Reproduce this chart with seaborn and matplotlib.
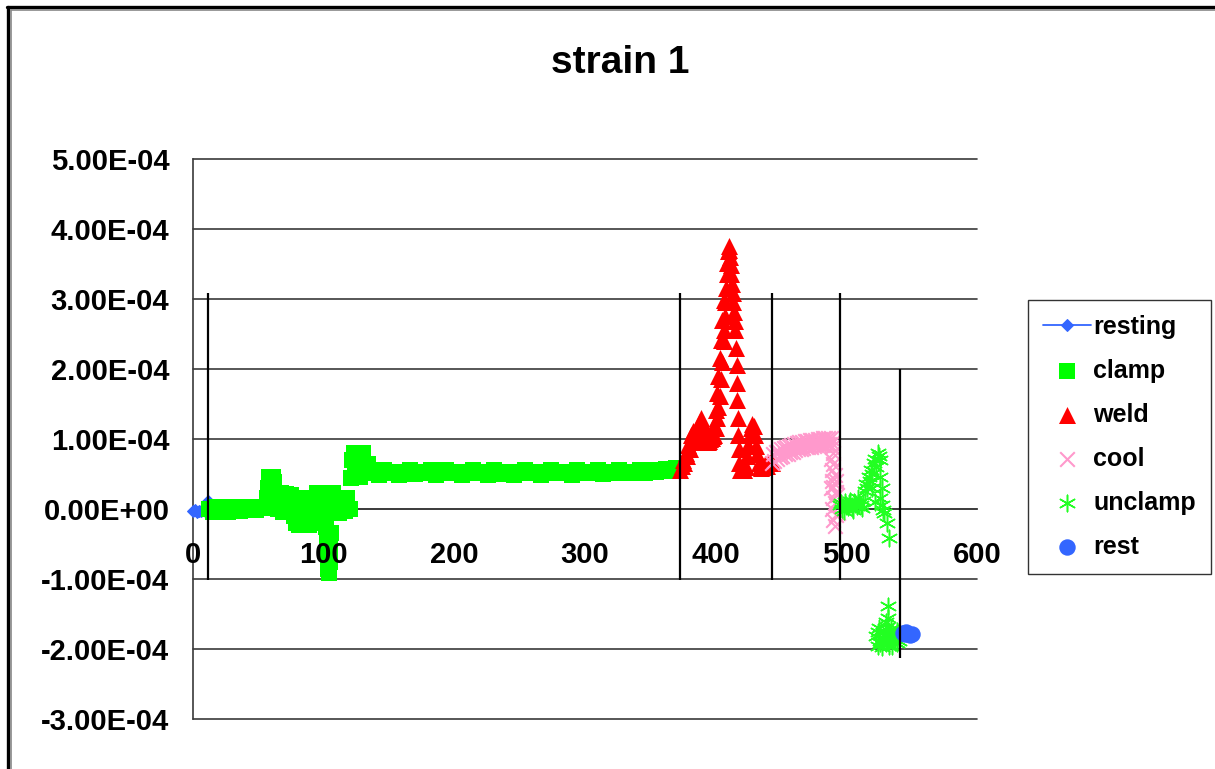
import numpy as np
import pandas as pd
import matplotlib
matplotlib.use("Agg")
import matplotlib.pyplot as plt
from matplotlib.lines import Line2D
import seaborn as sns

SCALE = 1e-4  # values below are given in units of 1e-4

resting_x = [0, 1.5, 3, 4.5, 6, 7.5, 9, 10.5, 11.5]
resting_y = [-0.03, -0.02, -0.04, -0.03, -0.03, -0.02, -0.03, 0.03, 0.12]

clamp_x = [12, 15, 18, 21, 24, 27, 30, 33, 36, 39, 42, 45, 48, 51, 54, 56,
           57, 57.5, 58, 59, 60, 61, 62, 63, 64, 65,
           66, 67, 68, 69, 70, 71, 72, 73, 74, 75, 76,
           77, 78, 79, 80, 81, 82, 83, 84, 85, 86, 87, 88, 89, 90, 91, 92, 93,
           94, 95, 96, 97, 98, 99, 100, 101, 102, 102.5, 103, 103.5, 104, 104.5, 105, 105.5, 106, 107,
           108, 110, 112, 114, 116, 118, 120,
           121, 122, 123, 124, 125, 126, 127, 128, 129, 130, 131, 132, 134, 136,
           138, 142, 146, 150, 154, 158, 162, 166, 170, 174, 178, 182, 186, 190,
           194, 198, 202, 206, 210, 214, 218, 222, 226, 230, 234, 238, 242, 246,
           250, 254, 258, 262, 266, 270, 274, 278, 282, 286, 290, 294, 298, 302,
           306, 310, 314, 318, 322, 326, 330, 334, 338, 342, 346, 350, 354, 358,
           362, 366, 370, 372]
clamp_y = [0.00, -0.04, 0.03, -0.03, 0.01, -0.04, 0.03, 0.00, -0.03, 0.03, 0.00, 0.03, -0.02, 0.03, 0.02, 0.03,
           0.15, 0.30, 0.46, 0.40, 0.30, 0.46, 0.38, 0.20, 0.05, 0.00,
           0.18, 0.23, 0.10, -0.04, 0.15, 0.22, 0.05, -0.02, 0.12, 0.20, 0.02,
           -0.10, 0.14, -0.20, 0.05, -0.23, 0.16, -0.15, 0.00, -0.22, 0.10, -0.18, 0.15, -0.23, 0.05, -0.12, 0.12, -0.20,
           0.10, 0.23, -0.05, 0.20, -0.15, 0.23, -0.10, 0.05, -0.25, -0.45, -0.65, -0.85, -0.92, -0.75, -0.55, -0.35, 0.20, 0.23,
           0.05, 0.16, -0.06, 0.12, -0.03, 0.15, 0.00,
           0.44, 0.70, 0.80, 0.50, 0.78, 0.62, 0.80, 0.46, 0.75, 0.80, 0.55, 0.62, 0.64, 0.55,
           0.52, 0.49, 0.55, 0.51, 0.53, 0.49, 0.52, 0.55, 0.50, 0.53, 0.51, 0.55, 0.49, 0.52,
           0.55, 0.51, 0.53, 0.49, 0.52, 0.55, 0.51, 0.53, 0.49, 0.55, 0.52, 0.50, 0.53, 0.49,
           0.52, 0.55, 0.51, 0.53, 0.49, 0.52, 0.55, 0.51, 0.53, 0.52, 0.49, 0.55, 0.51, 0.53,
           0.52, 0.55, 0.50, 0.53, 0.51, 0.55, 0.52, 0.53, 0.51, 0.55, 0.52, 0.56, 0.53, 0.55,
           0.57, 0.54, 0.58, 0.58]

weld_x = [373, 374, 375, 376, 377, 378, 379, 380, 381, 382, 383, 384, 385, 386, 387, 388,
          389, 390, 391, 392, 393, 394, 395, 396, 397, 398, 399, 400, 401, 402, 403, 404,
          405, 406, 406.5, 407, 407.5, 408, 408.5, 409, 409.5, 410, 410.5, 411, 411.5,
          412, 412.5, 413, 413.5, 414, 414.5, 415, 415.5, 416, 416.3, 416.6, 417, 417.3,
          417.6, 418, 419, 420, 421,
          422, 423, 424, 425, 426, 427, 428, 429, 430, 431, 432, 433, 434, 435, 436, 437,
          438, 439, 440, 441, 442, 443,
          399, 400, 401, 402, 403, 404, 405, 406]
weld_y = [0.55, 0.62, 0.70, 0.66, 0.80, 0.76, 0.92, 0.86, 1.05, 0.95, 1.12, 1.02, 0.96, 1.10, 1.20, 1.25,
          1.30, 1.22, 1.10, 1.00, 0.98, 0.96, 0.97, 1.00, 1.02, 1.04, 1.05, 1.15, 1.30, 1.45, 1.62, 1.85,
          2.10, 2.40, 2.56, 2.75, 2.95, 3.15, 3.35, 3.52, 3.68, 3.75, 3.70, 3.60, 3.48,
          3.35, 3.22, 3.08, 2.95, 2.82, 2.68, 2.55, 2.30, 2.05, 1.80, 1.55, 1.30, 1.05,
          0.85, 0.65, 0.55, 0.55, 0.56,
          0.56, 0.60, 0.75, 0.92, 1.05, 1.15, 1.22, 1.18, 1.05, 0.90, 0.78, 0.66, 0.60, 0.58, 0.62, 0.60,
          0.64, 0.62, 0.66, 0.65, 0.68, 0.66,
          1.20, 1.42, 1.65, 1.90, 2.15, 2.42, 2.70, 2.98]

cool_x = [443, 444, 445, 446, 447, 448, 449, 450, 451, 452, 453, 454, 455, 456, 457, 458,
          459, 460, 461, 462, 463, 464, 465, 466, 467, 468, 469, 470, 471, 472, 473, 474,
          475, 476, 477, 478, 479, 480, 481, 482, 483, 484, 485, 486, 487, 488, 489,
          489, 490, 488, 490, 489, 491, 489, 490, 492, 490, 491, 489, 492, 490, 491,
          493, 494, 492, 493, 488]
cool_y = [0.66, 0.78, 0.69, 0.81, 0.72, 0.83, 0.74, 0.85, 0.76, 0.87, 0.78, 0.89, 0.79, 0.90, 0.81, 0.92,
          0.82, 0.93, 0.84, 0.94, 0.85, 0.95, 0.86, 0.96, 0.87, 0.97, 0.88, 0.97, 0.89, 0.98, 0.89, 0.99,
          0.90, 0.99, 0.91, 1.00, 0.91, 1.00, 0.92, 1.01, 0.92, 1.01, 0.93, 1.02, 0.93, 1.02, 0.94,
          0.88, 0.80, 0.72, 0.64, 0.56, 0.48, 0.40, 0.32, 0.24, 0.16, 0.08, 0.00, -0.08, -0.16, -0.24,
          0.05, -0.05, 0.40, 0.20, 0.30]

unclamp_x = [495, 496, 497, 498, 499, 500, 501, 502, 503, 504, 505, 506, 507, 508, 509, 510,
             511, 512, 513,
             514, 515, 516, 517, 518, 519, 520, 521,
             522, 523, 524, 525, 526, 526, 527,
             520, 522, 526, 527, 528, 529, 531, 533,
             523, 524, 525, 526, 527, 528, 529, 530, 531, 532, 533, 534, 535, 536, 537, 538, 539, 540,
             524, 526, 528, 530, 533, 535, 537, 539,
             532, 532, 530]
unclamp_y = [0.05, 0.08, 0.00, -0.03, 0.10, 0.06, 0.03, 0.09, 0.12, 0.02, -0.02, 0.10, 0.08, 0.04, 0.15, 0.09,
             0.05, 0.02, 0.12,
             0.25, 0.35, 0.30, 0.45, 0.40, 0.55, 0.50, 0.65,
             0.72, 0.60, 0.80, 0.75, 0.70, 0.45, 0.30,
             0.30, 0.10, 0.15, 0.05, -0.02, -0.05, -0.20, -0.42,
             -1.82, -1.95, -1.70, -1.88, -1.97, -1.75, -1.85, -1.92, -1.68, -1.80, -1.95, -1.72, -1.86, -1.78, -1.90, -1.82, -1.74, -1.88,
             -1.76, -1.92, -1.84, -1.78, -1.88, -1.96, -1.80, -1.92,
             -1.38, -1.55, -1.62]

rest_x = [543, 545, 546, 547, 549, 550]
rest_y = [-1.77, -1.79, -1.76, -1.78, -1.80, -1.78]

# phase separators
sep_x = [11.5, 373, 443, 495, 541]
sep_top = [3.08, 3.08, 3.08, 3.08, 2.0]
sep_bottom = [-1.01, -1.01, -1.01, -1.01, -2.13]

y_ticks = [-3, -2, -1, 0, 1, 2, 3, 4, 5]
x_ticks = [0, 100, 200, 300, 400, 500, 600]

sns.set_style("white")
plt.rcParams["font.family"] = ["Liberation Sans", "DejaVu Sans"]
plt.rcParams["font.weight"] = "bold"
plt.rcParams["text.color"] = "black"
plt.rcParams["xtick.color"] = "black"
plt.rcParams["ytick.color"] = "black"

fig = plt.figure(figsize=(12.15, 7.69), dpi=100)
ax = fig.add_axes([193 / 1215, 50 / 769, 784 / 1215, 560 / 769])

def frame(xs, ys):
    return pd.DataFrame({"x": xs, "y": np.array(ys) * SCALE})

d = frame(resting_x, resting_y)
sns.lineplot(data=d, x="x", y="y", ax=ax, color="#3366FF", lw=1.3, marker="D",
             markersize=6, markeredgecolor="#3366FF", label="resting", clip_on=False, zorder=3)
d = frame(clamp_x, clamp_y)
sns.scatterplot(data=d, x="x", y="y", ax=ax, color="#00FF00", marker="s", s=140,
                edgecolor="#00FF00", linewidth=0, label="clamp", zorder=3)
d = frame(weld_x, weld_y)
sns.scatterplot(data=d, x="x", y="y", ax=ax, color="#FF0000", marker="^", s=150,
                edgecolor="#FF0000", linewidth=0, label="weld", zorder=3)
d = frame(cool_x, cool_y)
sns.scatterplot(data=d, x="x", y="y", ax=ax, color="#FF99CC", marker="x", s=110,
                linewidth=1.5, label="cool", zorder=3)
d = frame(unclamp_x, unclamp_y)
sns.scatterplot(data=d, x="x", y="y", ax=ax, color="#22FF22", marker=(6, 2, 0), s=140,
                linewidth=1.1, label="unclamp", zorder=3)
d = frame(rest_x, rest_y)
sns.scatterplot(data=d, x="x", y="y", ax=ax, color="#3366FF", marker="o", s=140,
                edgecolor="#3366FF", linewidth=0, label="rest", zorder=3)

ax.vlines(sep_x, np.array(sep_bottom) * SCALE, np.array(sep_top) * SCALE,
          colors="black", linewidth=1.6, zorder=5)

ax.set_xlim(0, 600)
ax.set_ylim(-3e-4, 5e-4)
ax.set_xticks(x_ticks)
ax.set_yticks(np.array(y_ticks) * SCALE)
ax.set_xticklabels([str(v) for v in x_ticks])
ax.set_yticklabels([f"{v * SCALE:.2E}" for v in y_ticks])
ax.set_xlabel("")
ax.set_ylabel("")

for v in y_ticks:
    ax.axhline(v * SCALE, color="#3a3a3a", lw=1.2, zorder=1, clip_on=False)

for s in ["top", "right"]:
    ax.spines[s].set_visible(False)
ax.spines["left"].set_color("#3a3a3a")
ax.spines["left"].set_linewidth(1.2)
ax.spines["bottom"].set_position(("data", 0))
ax.spines["bottom"].set_color("#3a3a3a")
ax.spines["bottom"].set_linewidth(1.2)
ax.xaxis.set_zorder(6)

ax.tick_params(axis="both", which="major", labelsize=21, direction="out",
               length=6, width=1.1, color="#3a3a3a", labelcolor="black")
ax.tick_params(axis="y", pad=11)
ax.tick_params(axis="x", pad=17)
for lab in ax.get_xticklabels() + ax.get_yticklabels():
    lab.set_fontweight("bold")

leg = ax.legend(loc="upper left", bbox_to_anchor=(1028 / 1215, 1 - 300 / 769),
                bbox_transform=fig.transFigure, frameon=True, fancybox=False,
                edgecolor="black", fontsize=18, labelspacing=0.8, handlelength=1.9,
                handletextpad=0.12, borderpad=0.6, borderaxespad=0)
leg.get_frame().set_linewidth(1.0)
for t in leg.get_texts():
    t.set_fontweight("bold")
    t.set_color("black")

fig.text(620 / 1215, 1 - 63 / 769, "strain 1", ha="center", va="center",
         fontsize=28, fontweight="bold", color="black")

# outer chart frame (double border, cropped at right/bottom)
fig.add_artist(Line2D([7 / 1215, 1], [1 - 6.5 / 769, 1 - 6.5 / 769], color="black", lw=2.4))
fig.add_artist(Line2D([8 / 1215, 8 / 1215], [0, 1 - 6.5 / 769], color="black", lw=2.4))
fig.add_artist(Line2D([11 / 1215, 1], [1 - 9.8 / 769, 1 - 9.8 / 769], color="#888888", lw=1.2))
fig.add_artist(Line2D([11 / 1215, 11 / 1215], [0, 1 - 9.8 / 769], color="#888888", lw=1.2))

fig.savefig("out.png", dpi=100)
